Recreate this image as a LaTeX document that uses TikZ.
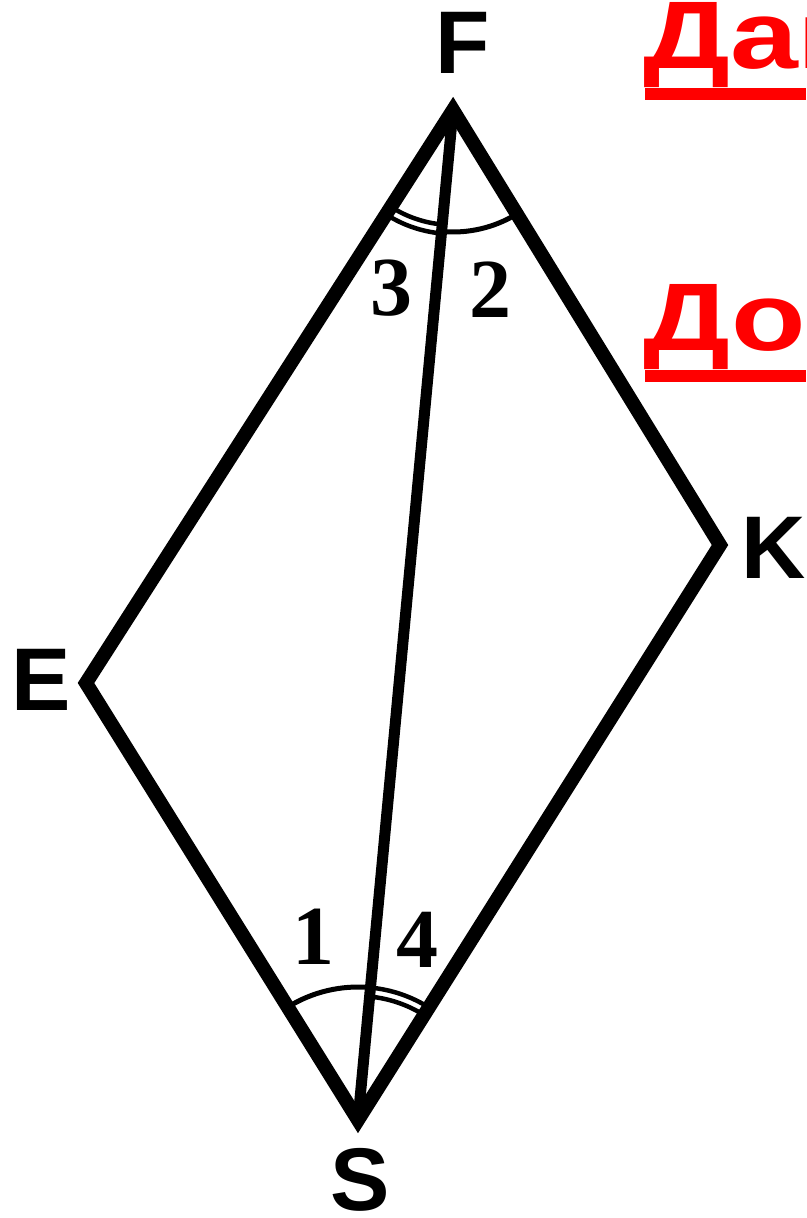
\documentclass[tikz,border=0pt]{standalone}
\usepackage{fontspec}
\setmainfont{Liberation Serif}
\newfontfamily\vertfont{Liberation Sans}
\newfontfamily\headfont{Liberation Sans}
\usetikzlibrary{positioning}
\definecolor{headred}{HTML}{FF0000}
\tikzset{
  vlbl/.style={inner sep=0pt,font=\vertfont\bfseries\fontsize{89}{89}\selectfont},
  alabel/.style={inner sep=0pt,font=\bfseries\fontsize{84}{84}\selectfont},
  headtxt/.style={inner sep=0pt,anchor=base west,headred,font=\headfont\bfseries\fontsize{96}{96}\selectfont},
  anglearc/.style={line width=5pt},
  dblarc/.style={line width=4.5pt}
}

\begin{document}
\begin{tikzpicture}[x=1pt,y=1pt,line join=miter]
  \useasboundingbox (0,0) rectangle (806,-1218);
  \clip (0,0) rectangle (806,-1218);
  % vertices
  \coordinate (F) at (453,-110);
  \coordinate (K) at (720,-545);
  \coordinate (S) at (358,-1120);
  \coordinate (E) at (86,-683);
  \draw[line width=14pt] (F) -- (K) -- (S) -- (E) -- cycle;
  \draw[line width=11pt] (F) -- (S);
  % angles at F
  \draw[anglearc,shift={(F)}] (264.66:122) arc[start angle=264.66,end angle=301.4,radius=122];
  \draw[dblarc,shift={(F)}] (237.5:115) arc[start angle=237.5,end angle=264.66,radius=115];
  \draw[dblarc,shift={(F)}] (237.5:124) arc[start angle=237.5,end angle=264.66,radius=124];
  % angles at S
  \draw[anglearc,shift={(S)}] (84.66:133) arc[start angle=84.66,end angle=121.9,radius=133];
  \draw[dblarc,shift={(S)}] (57.8:124) arc[start angle=57.8,end angle=84.66,radius=124];
  \draw[dblarc,shift={(S)}] (57.8:133) arc[start angle=57.8,end angle=84.66,radius=133];
  % labels
  \node[vlbl] (lblF) at (463,-43) {F};
  \node[vlbl] (lblK) at (774,-548) {K};
  \node[vlbl] (lblE) at (41,-680) {E};
  \node[vlbl] (lblS) at (360,-1180) {S};
  \node[alabel] (ang3) at (391,-288) {3};
  \node[alabel] (ang2) at (490,-290) {2};
  \node[alabel] (ang1) at (313,-937) {1};
  \node[alabel] (ang4) at (417,-940) {4};
  % headings, cut at the right edge
  \node[headtxt] (given) at (643,-68) {\scalebox{1.27}[1]{Дано:}};
  \node[headtxt] (prove) at (643,-350) {\scalebox{1.27}[1]{Доказать:}};
  \fill[headred] (645,-88) rectangle (806,-100);
  \fill[headred] (645,-370) rectangle (806,-382);
\end{tikzpicture}
\end{document}
